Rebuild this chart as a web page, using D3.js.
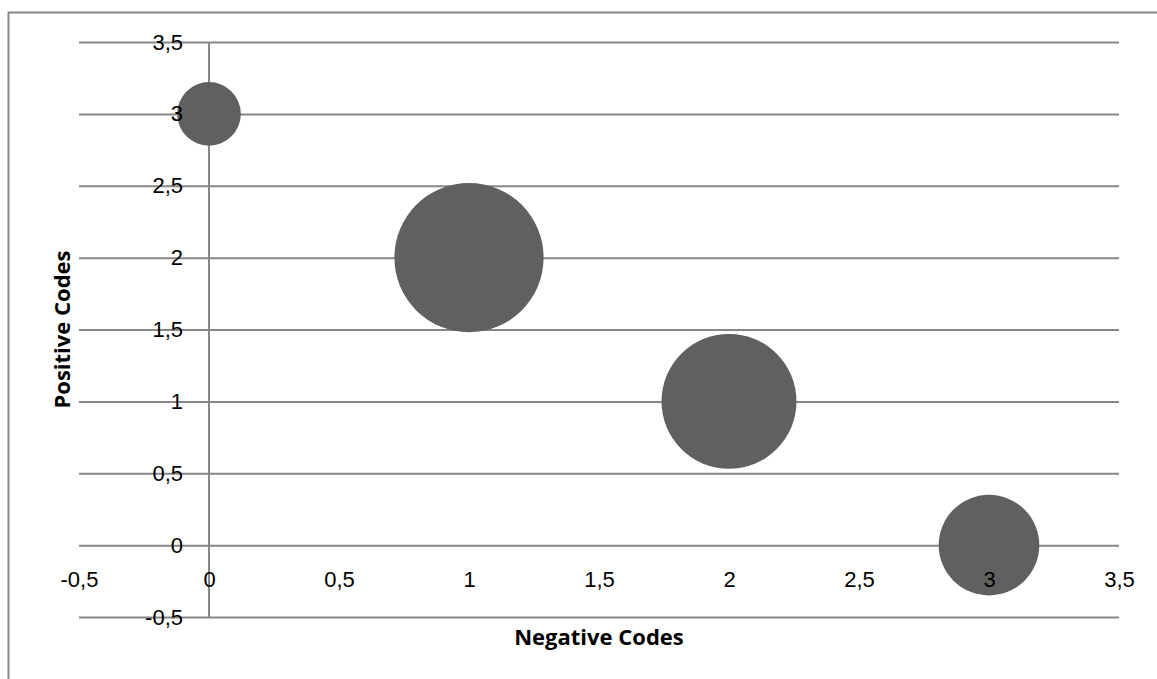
<!DOCTYPE html>
<html>
<head>
<meta charset="utf-8">
<script src="https://cdn.jsdelivr.net/npm/d3@7"></script>
<style>
    body { margin: 0; background: #fff; }
    svg { display: block; font-family: "Open Sans", Lato, sans-serif; }
</style>
</head>
<body>
<div class="visHolder"></div>
<script>
// bubble data: x = negative codes, y = positive codes, size = bubble size
const negativeCodes = [0, 1, 2, 3];
const positiveCodes = [3, 2, 1, 0];
const bubbleSizes = [2, 11, 9, 5];
const tickValues = [-0.5, 0, 0.5, 1, 1.5, 2, 2.5, 3, 3.5];

const w = 1157;
const h = 679;
const plotLeft = 79, plotRight = 1119, plotTop = 42, plotBottom = 617;

const fmt = d => String(d).replace(".", ",");

const xScale = d3.scaleLinear().domain([-0.5, 3.5]).range([plotLeft, plotRight]);
const yScale = d3.scaleLinear().domain([-0.5, 3.5]).range([plotBottom, plotTop]);
const rScale = d3.scaleSqrt().domain([0, d3.max(bubbleSizes)]).range([0, 74.6]);

const svg = d3.select(".visHolder")
    .append("svg")
    .attr("width", w)
    .attr("height", h);

// chart border (runs off the page on the right and bottom)
svg.append("rect")
    .attr("x", 8.5)
    .attr("y", 12.5)
    .attr("width", 1200)
    .attr("height", 800)
    .attr("fill", "none")
    .attr("stroke", "#878787")
    .attr("stroke-width", 2);

// horizontal gridlines
svg.append("g")
    .attr("class", "grid")
    .attr("transform", `translate(${plotLeft}, 0)`)
    .call(d3.axisLeft(yScale).tickValues(tickValues).tickSize(-(plotRight - plotLeft)).tickFormat(""))
    .call(g => g.select(".domain").remove())
    .selectAll("line")
    .attr("stroke", "#878787")
    .attr("stroke-width", 2);

// vertical axis line at x = 0
svg.append("line")
    .attr("x1", xScale(0))
    .attr("x2", xScale(0))
    .attr("y1", yScale(3.5))
    .attr("y2", yScale(-0.5))
    .attr("stroke", "#878787")
    .attr("stroke-width", 2);

const data = negativeCodes.map((x, i) => ({ x: x, y: positiveCodes[i], size: bubbleSizes[i] }));

svg.selectAll(".bubble")
    .data(data)
    .enter()
    .append("circle")
    .attr("class", "bubble")
    .attr("cx", d => xScale(d.x))
    .attr("cy", d => yScale(d.y))
    .attr("r", d => rScale(d.size))
    .attr("fill", "#606060");

// y tick labels, beside the x = 0 axis
const yAxis = svg.append("g")
    .attr("id", "y-axis")
    .attr("transform", `translate(${xScale(0) - 26}, 0)`)
    .call(d3.axisLeft(yScale).tickValues(tickValues).tickSize(0).tickPadding(0).tickFormat(fmt));
yAxis.select(".domain").remove();
yAxis.selectAll("text")
    .attr("fill", "#000")
    .style("font-size", "22px");

// x tick labels, below the y = 0 line
const xAxis = svg.append("g")
    .attr("id", "x-axis")
    .attr("transform", `translate(0, ${yScale(0) + 42})`)
    .call(d3.axisBottom(xScale).tickValues(tickValues).tickSize(0).tickPadding(0).tickFormat(fmt));
xAxis.select(".domain").remove();
xAxis.selectAll("text")
    .attr("fill", "#000")
    .attr("dy", "0")
    .style("font-size", "22px");

svg.append("text")
    .attr("x", (plotLeft + plotRight) / 2)
    .attr("y", 645)
    .attr("text-anchor", "middle")
    .style("font-size", "22px")
    .style("font-weight", "bold")
    .text("Negative Codes");

svg.append("text")
    .attr("transform", `translate(70, ${(plotTop + plotBottom) / 2}) rotate(-90)`)
    .attr("text-anchor", "middle")
    .style("font-size", "22px")
    .style("font-weight", "bold")
    .text("Positive Codes");
</script>
</body>
</html>
